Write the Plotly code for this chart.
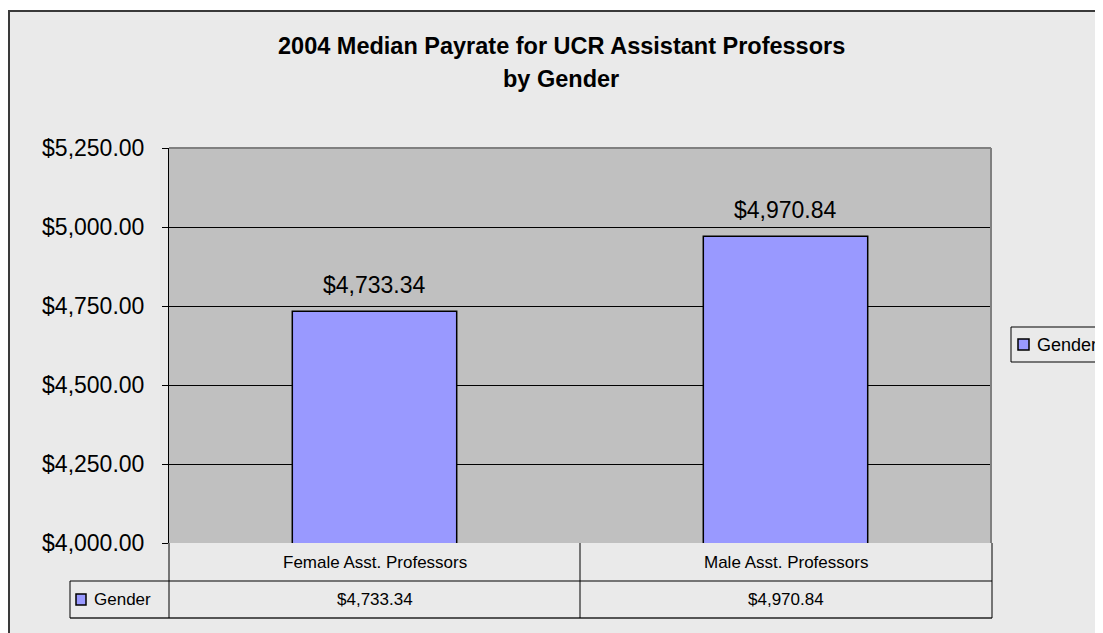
import plotly.graph_objects as go

categories = ["Female Asst. Professors", "Male Asst. Professors"]
values = [4733.34, 4970.84]
series_name = "Gender"
title_lines = ["2004 Median Payrate for UCR Assistant Professors", "by Gender"]
y_min, y_max, y_step = 4000, 5250, 250

OFF = 8  # browser body margin
W, H = 1103, 633
L, R, T, B = 169 - OFF, 991 - OFF, 148 - OFF, 543 - OFF  # plot area pixel box (figure coords)
FONT = "Liberation Sans, Arial, sans-serif"
BAR = "#9999FF"
OUTER = "#EAEAEA"


def px(p):
    """image x pixel -> paper coordinate"""
    return (p - OFF - L) / (R - L)


def py(p):
    """image y pixel -> paper coordinate"""
    return (B - (p - OFF)) / (B - T)


def fmt(v):
    return "${:,.2f}".format(v)


fig = go.Figure()
fig.add_trace(go.Bar(
    x=categories, y=values, name=series_name, width=0.4,
    marker=dict(color=BAR, line=dict(color="black", width=1.5)),
    showlegend=False,
))

shapes = []
annotations = []

# white strip above the frame, then frame lines
shapes.append(dict(type="rect", xref="paper", yref="paper", x0=px(0), x1=px(1200), y0=py(0), y1=py(10),
                   fillcolor="white", line=dict(width=0), layer="above"))
shapes.append(dict(type="line", xref="paper", yref="paper", x0=px(9), x1=px(9), y0=py(10), y1=py(700),
                   line=dict(color="#3a3a3a", width=2)))
shapes.append(dict(type="line", xref="paper", yref="paper", x0=px(8), x1=px(1200), y0=py(11), y1=py(11),
                   line=dict(color="#3a3a3a", width=2)))

# plot area border (top & right, gray)
shapes.append(dict(type="line", xref="paper", yref="paper", x0=0, x1=1, y0=1, y1=1,
                   line=dict(color="#808080", width=2)))
shapes.append(dict(type="line", xref="paper", yref="paper", x0=1, x1=1, y0=0, y1=1,
                   line=dict(color="#808080", width=2)))

# data table
row1_bot, row2_bot, tbl_left, tbl_right = 581, 618, 70, 992
line_k = dict(color="black", width=1)
shapes.append(dict(type="line", xref="paper", yref="paper", x0=px(tbl_left), x1=px(tbl_right),
                   y0=py(row1_bot), y1=py(row1_bot), line=line_k))
shapes.append(dict(type="line", xref="paper", yref="paper", x0=px(tbl_left), x1=px(tbl_right),
                   y0=py(row2_bot), y1=py(row2_bot), line=dict(color="#555555", width=2)))
shapes.append(dict(type="line", xref="paper", yref="paper", x0=px(tbl_left), x1=px(tbl_left),
                   y0=py(row1_bot), y1=py(row2_bot), line=line_k))
shapes.append(dict(type="line", xref="paper", yref="paper", x0=0, x1=0,
                   y0=0, y1=py(row2_bot), line=line_k))
shapes.append(dict(type="line", xref="x", yref="paper", x0=0.5, x1=0.5,
                   y0=0, y1=py(row2_bot), line=line_k))
shapes.append(dict(type="line", xref="paper", yref="paper", x0=px(tbl_right), x1=px(tbl_right),
                   y0=0, y1=py(row2_bot), line=line_k))

for cat, v in zip(categories, values):
    annotations.append(dict(x=cat, xref="x", y=py((543 + row1_bot) / 2), yref="paper", text=cat,
                            showarrow=False, font=dict(family=FONT, size=17, color="black"),
                            xanchor="center", yanchor="middle"))
    annotations.append(dict(x=cat, xref="x", y=py((row1_bot + row2_bot) / 2), yref="paper", text=fmt(v),
                            showarrow=False, font=dict(family=FONT, size=17, color="black"),
                            xanchor="center", yanchor="middle"))
    # data label above bar
    annotations.append(dict(x=cat, xref="x", y=v, yref="y", text=fmt(v), showarrow=False,
                            font=dict(family=FONT, size=23, color="black"),
                            xanchor="center", yanchor="bottom", yshift=11))

# table legend key
shapes.append(dict(type="rect", xref="paper", yref="paper", x0=px(76), x1=px(86),
                   y0=py(594), y1=py(605), fillcolor=BAR, line=dict(color="black", width=1.5)))
annotations.append(dict(x=px(92), xref="paper", y=py((row1_bot + row2_bot) / 2), yref="paper",
                        text=series_name, showarrow=False, font=dict(family=FONT, size=17, color="black"),
                        xanchor="left", yanchor="middle"))

# legend box
shapes.append(dict(type="rect", xref="paper", yref="paper", x0=px(1011), x1=px(1200),
                   y0=py(327), y1=py(362), fillcolor=OUTER, line=dict(color="black", width=1)))
shapes.append(dict(type="rect", xref="paper", yref="paper", x0=px(1018), x1=px(1029),
                   y0=py(339), y1=py(350), fillcolor=BAR, line=dict(color="black", width=1.5)))
annotations.append(dict(x=px(1035), xref="paper", y=py(344.5), yref="paper", text=series_name,
                        showarrow=False, font=dict(family=FONT, size=18, color="black"),
                        xanchor="left", yanchor="middle"))

# title (two lines)
annotations.append(dict(x=px(561), xref="paper", y=py(46), yref="paper", text="<b>" + title_lines[0] + "</b>",
                        showarrow=False, font=dict(family=FONT, size=23.5, color="black"),
                        xanchor="center", yanchor="middle"))
annotations.append(dict(x=px(561), xref="paper", y=py(79.5), yref="paper", text="<b>" + title_lines[1] + "</b>",
                        showarrow=False, font=dict(family=FONT, size=23.5, color="black"),
                        xanchor="center", yanchor="middle"))

tickvals = list(range(y_min, y_max + 1, y_step))

fig.update_layout(
    width=W, height=H,
    margin=dict(l=L, r=W - R, t=T, b=H - B, pad=0),
    paper_bgcolor=OUTER, plot_bgcolor="#C0C0C0",
    xaxis=dict(type="category", range=[-0.5, 1.5], showticklabels=False, showgrid=False,
               showline=False, zeroline=False, ticks=""),
    yaxis=dict(range=[y_min, y_max], tickvals=tickvals, ticktext=[fmt(t) for t in tickvals],
               ticks="outside", ticklen=6, tickcolor="black", tickwidth=1,
               showline=True, linecolor="black", linewidth=1,
               showgrid=True, gridcolor="black", gridwidth=1, zeroline=False,
               tickfont=dict(family=FONT, size=23, color="black"), ticklabelstandoff=13),
    shapes=shapes, annotations=annotations,
    showlegend=False,
    bargap=0.6,
)

fig.write_html("out.html")
